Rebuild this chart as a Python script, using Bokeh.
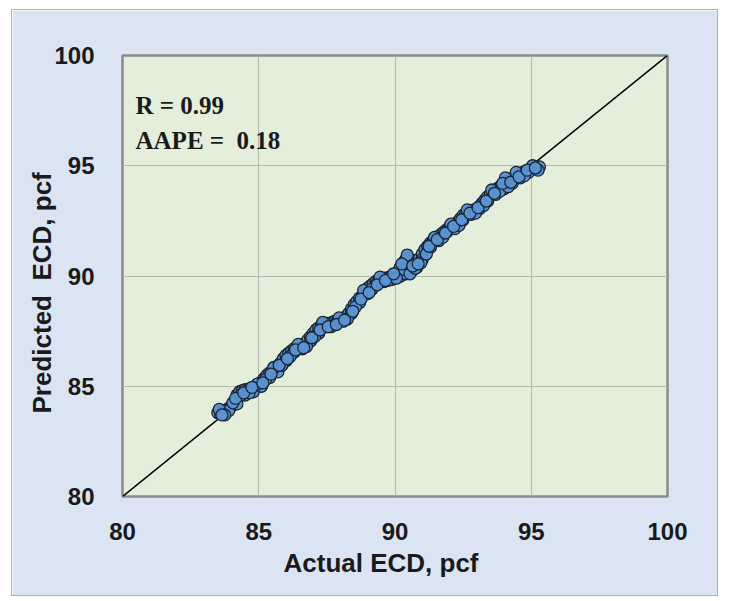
from bokeh.plotting import figure
from bokeh.models import Label, FixedTicker, Title
from bokeh.embed import file_html
from bokeh.resources import INLINE

# Measured vs. predicted equivalent circulating density (pcf)
actual = [
    83.5, 83.6, 83.7, 83.8, 83.9, 84.0, 84.1, 84.2, 84.3, 84.4, 84.5, 84.6, 84.7, 84.8, 84.9,
    85.0, 85.1, 85.2, 85.3, 85.4, 85.5, 85.6, 85.7, 85.8, 85.9, 86.0, 86.1, 86.2, 86.3, 86.4,
    86.5, 86.6, 86.7, 86.8, 86.9, 87.0, 87.1, 87.2, 87.3, 87.4, 87.5, 87.6, 87.7, 87.8, 87.9,
    88.0, 88.1, 88.2, 88.3, 88.4, 88.5, 88.6, 88.7, 88.8, 88.9, 89.0, 89.1, 89.2, 89.3, 89.4,
    89.5, 89.6, 89.7, 89.8, 89.9, 90.0, 90.1, 90.2, 90.3, 90.4, 90.5, 90.6, 90.7, 90.8, 90.9,
    91.0, 91.1, 91.2, 91.3, 91.4, 91.5, 91.6, 91.7, 91.8, 91.9, 92.0, 92.1, 92.2, 92.3, 92.4,
    92.5, 92.6, 92.7, 92.8, 92.9, 93.0, 93.1, 93.2, 93.3, 93.4, 93.5, 93.6, 93.7, 93.8, 93.9,
    94.0, 94.1, 94.2, 94.3, 94.4, 94.5, 94.6, 94.7, 94.8, 94.9, 95.0, 95.1, 95.2, 95.3,
    83.6, 83.9, 84.2, 84.5, 84.8, 85.1, 85.4, 85.7, 86.0, 86.3, 86.6, 86.9, 87.2, 87.5, 87.8,
    88.1, 88.4, 88.7, 89.0, 89.3, 89.6, 89.9, 90.2, 90.4, 90.6, 90.8, 91.0, 91.3, 91.6, 91.9,
    92.2, 92.5, 92.8, 93.1, 93.4, 93.7, 94.0, 94.3, 94.6, 94.9,
    83.55, 83.75, 84.05, 84.35, 84.65, 84.95, 85.25, 85.55, 85.85, 86.15, 86.45, 86.75, 87.05,
    87.35, 87.65, 87.95, 88.25, 88.55, 88.85, 89.15, 89.45, 89.75, 90.05, 90.35, 90.45, 90.55,
    90.75, 90.95, 91.15, 91.45, 91.75, 92.05, 92.35, 92.65, 92.95, 93.25, 93.55, 93.85, 94.05,
    94.15, 94.45, 94.75, 95.05, 95.25,
    83.65, 84.15, 84.45, 84.75, 85.15, 85.45, 85.75, 86.05, 86.35, 86.65, 86.95, 87.25, 87.55,
    87.85, 88.15, 88.45, 88.75, 89.05, 89.35, 89.65, 89.95, 90.25, 90.65, 90.85, 91.25, 91.55,
    91.85, 92.15, 92.45, 92.75, 93.05, 93.35, 93.65, 93.95, 94.25, 94.55, 94.85, 95.15,
]
predicted = [
    83.80, 83.80, 83.85, 83.90, 84.00, 84.10, 84.30, 84.60, 84.75, 84.80, 84.85, 84.85, 84.90, 84.90, 84.95,
    85.05, 85.20, 85.35, 85.50, 85.60, 85.70, 85.80, 85.90, 86.05, 86.25, 86.40, 86.50, 86.60, 86.70, 86.75,
    86.80, 86.85, 86.95, 87.10, 87.25, 87.40, 87.55, 87.65, 87.75, 87.80, 87.85, 87.85, 87.90, 87.95, 88.00,
    88.00, 88.05, 88.15, 88.30, 88.50, 88.70, 88.85, 89.00, 89.10, 89.30, 89.45, 89.55, 89.65, 89.75, 89.80,
    89.85, 89.90, 89.90, 89.95, 90.00, 90.05, 90.20, 90.40, 90.60, 90.75, 90.80, 90.70, 90.60, 90.65, 90.80,
    91.00, 91.20, 91.35, 91.50, 91.60, 91.70, 91.80, 91.90, 92.00, 92.10, 92.15, 92.20, 92.30, 92.45, 92.60,
    92.75, 92.85, 92.90, 92.95, 93.00, 93.05, 93.15, 93.30, 93.45, 93.60, 93.70, 93.80, 93.90, 94.00, 94.10,
    94.20, 94.30, 94.35, 94.40, 94.45, 94.50, 94.60, 94.70, 94.75, 94.80, 94.85, 94.90, 94.90, 94.95,
    83.75, 83.90, 84.20, 84.60, 84.75, 85.00, 85.40, 85.65, 86.15, 86.55, 86.70, 87.05, 87.40, 87.70, 87.80,
    87.95, 88.30, 88.80, 89.20, 89.60, 89.75, 89.85, 90.00, 90.10, 90.20, 90.40, 90.75, 91.30, 91.60, 92.00,
    92.15, 92.55, 92.80, 93.05, 93.40, 93.70, 93.95, 94.20, 94.45, 94.70,
    83.95, 83.70, 84.25, 84.60, 84.70, 85.10, 85.30, 85.85, 85.95, 86.35, 86.90, 86.80, 87.25,
    87.90, 87.70, 88.10, 88.05, 88.60, 89.35, 89.40, 89.95, 89.80, 89.90, 90.30, 90.95, 90.10,
    90.35, 90.60, 91.00, 91.75, 91.75, 92.35, 92.30, 93.00, 92.85, 93.20, 93.90, 93.85, 94.45,
    94.05, 94.70, 94.55, 95.00, 94.80,
    83.70, 84.45, 84.70, 84.95, 85.15, 85.55, 85.95, 86.25, 86.65, 86.75, 87.20, 87.55, 87.70,
    87.80, 88.00, 88.40, 88.95, 89.25, 89.60, 89.80, 90.10, 90.55, 90.45, 90.55, 91.35, 91.65,
    91.95, 92.25, 92.55, 92.85, 93.10, 93.40, 93.75, 94.20, 94.25, 94.50, 94.80, 94.90,
]

axis_min, axis_max = 80, 100
tick_values = [80, 85, 90, 95, 100]
x_title = "Actual ECD, pcf"
y_title = "Predicted\u00a0 ECD, pcf"
stats_lines = ["R = 0.99", "AAPE =\u00a0 0.18"]

p = figure(
    width=705, height=585,
    x_range=(axis_min, axis_max), y_range=(axis_min, axis_max),
    output_backend="svg", toolbar_location=None,
    min_border_left=110, min_border_right=50, min_border_top=45, min_border_bottom=99,
    background_fill_color="#e3efda", border_fill_color="#dbe4f2",
)
p.margin = (10, 0, 0, 12)
p.styles = {"outline": "1.5px solid #9ab3de"}

p.outline_line_color = "#8c8c8c"
p.outline_line_width = 2.5

for ax in (p.xaxis, p.yaxis):
    ax.ticker = FixedTicker(ticks=tick_values)
    ax.axis_line_color = None
    ax.major_tick_line_color = None
    ax.minor_tick_line_color = None
    ax.major_label_text_font = "Liberation Sans"
    ax.major_label_text_font_style = "bold"
    ax.major_label_text_font_size = "24px"
    ax.major_label_text_color = "#1a1a1a"

p.xaxis.major_label_standoff = 20
p.yaxis.major_label_standoff = 22

p.grid.grid_line_color = "#b4b9ad"
p.grid.grid_line_width = 1

# axis titles as side titles, so they can be nudged along the frame
title_style = dict(text_font="Liberation Sans", text_font_style="bold",
                   text_color="#1a1a1a", align="left", text_font_size="26px")
p.add_layout(Title(text=x_title, offset=161, standoff=6, **title_style), "below")
p.add_layout(Title(text=y_title, offset=83, standoff=-10, **title_style), "left")

# 1:1 reference line
p.line([axis_min, axis_max], [axis_min, axis_max], line_color="black", line_width=1.6)

p.scatter(actual, predicted, size=12, fill_color="#5b93d3", line_color="#1a2433",
          line_width=1.3, fill_alpha=0.95)

for i, txt in enumerate(stats_lines):
    p.add_layout(Label(
        x=13, y=391 - i * 35, x_units="screen", y_units="screen", text=txt,
        text_font="Liberation Serif", text_font_style="bold", text_font_size="25px",
        text_color="#1a1a1a", text_baseline="middle",
    ))

open("out.html", "w").write(file_html(p, INLINE))
